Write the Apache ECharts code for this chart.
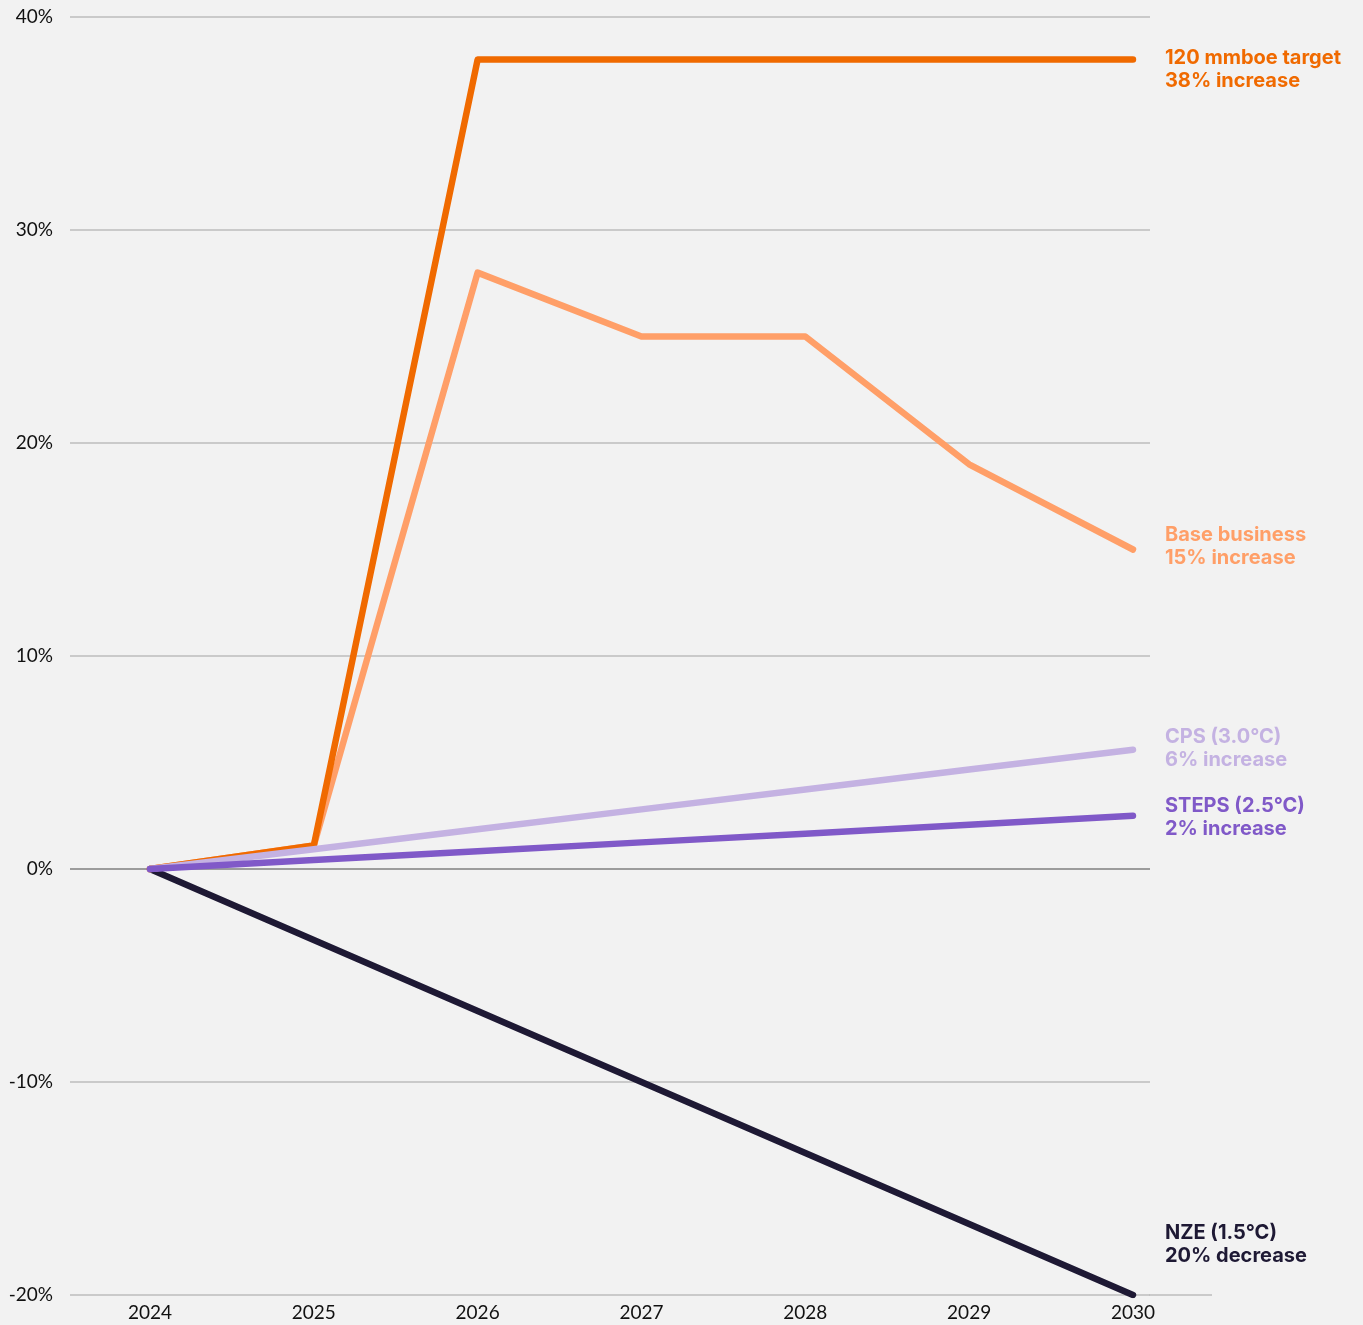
<!DOCTYPE html>
<html>
<head>
<meta charset="utf-8">
<script src="https://cdn.jsdelivr.net/npm/echarts@6/dist/echarts.min.js"></script>
<style>
  html, body {margin: 0; padding: 0; background: #f2f2f2;}
  #chart {width: 1363px; height: 1325px;}
</style>
</head>
<body>
<div id="chart"></div>
<script>
// years and % change vs 2024
var years = [2024, 2025, 2026, 2027, 2028, 2029, 2030];
var target = [0, 1.1, 38, 38, 38, 38, 38];
var baseBusiness = [0, 1.1, 28, 25, 25, 19, 15];
var cps = [0, 0.93, 1.87, 2.8, 3.73, 4.67, 5.6];
var steps = [0, 0.42, 0.83, 1.25, 1.66, 2.08, 2.5];
var nze = [0, -3.33, -6.67, -10, -13.33, -16.67, -20];

var yTicks = [-20, -10, 0, 10, 20, 30, 40];
var endNames = ['120 mmboe target\n38% increase', 'Base business\n15% increase', 'CPS (3.0°C)\n6% increase',
    'STEPS (2.5°C)\n2% increase', 'NZE (1.5°C)\n20% decrease'];

var font = 'Lato, "Noto Sans", sans-serif';
var labelFont = 'Inter, Lato, sans-serif';
var myChart = echarts.init(document.getElementById('chart'));

function pairs(arr) {
    return arr.map(function (v, i) { return [years[i], v]; });
}

function line(name, data, color, label, offsetY, z) {
    return {
        name: name,
        type: 'line',
        data: pairs(data),
        z: z,
        symbol: 'none',
        lineStyle: {color: color, width: 6.5, cap: 'round', join: 'round'},
        endLabel: {
            show: true,
            formatter: label,
            color: color,
            fontFamily: labelFont,
            fontWeight: 'bold',
            fontSize: 20,
            lineHeight: 23,
            distance: 32,
            offset: [0, offsetY]
        },
        animation: false
    };
}

myChart.setOption({
    backgroundColor: '#f2f2f2',
    animation: false,
    grid: {left: 70, right: 213, top: 17, bottom: 30},
    xAxis: {
        type: 'value',
        min: 2023.512,
        max: 2030.104,
        interval: 1,
        splitLine: {show: false},
        axisLine: {show: false},
        axisTick: {show: false},
        axisLabel: {
            color: '#111',
            fontFamily: font,
            fontSize: 19,
            margin: 8,
            customValues: years,
            formatter: function (v) { return String(v); }
        }
    },
    yAxis: {
        type: 'value',
        min: yTicks[0],
        max: yTicks[yTicks.length - 1],
        interval: 10,
        axisLine: {show: false},
        axisTick: {show: false},
        axisLabel: {
            color: '#111',
            fontFamily: font,
            fontSize: 19,
            margin: 17,
            formatter: '{value}%'
        },
        splitLine: {
            lineStyle: {
                color: ['#bdbdbd', '#bdbdbd', '#7f7f7f', '#bdbdbd', '#bdbdbd', '#bdbdbd', '#bdbdbd'],
                width: 1.5
            }
        }
    },
    series: [
        line('NZE', nze, '#1e1934', endNames[4], -51, 2),
        line('Base business', baseBusiness, '#ff9f68', endNames[1], -3, 3),
        line('Target', target, '#f06a00', endNames[0], 10, 4),
        line('CPS', cps, '#c4b2e2', endNames[2], -1, 5),
        line('STEPS', steps, '#8059c8', endNames[3], 2, 6)
    ]
});

// bottom axis line runs a bit past the gridlines
var p0 = myChart.convertToPixel({gridIndex: 0}, [2030.104, yTicks[0]]);
myChart.setOption({
    graphic: [{
        type: 'line',
        shape: {x1: p0[0] - 1, y1: p0[1], x2: p0[0] + 62, y2: p0[1]},
        style: {stroke: '#bdbdbd', lineWidth: 1.5},
        z: 1
    }]
});
</script>
</body>
</html>
